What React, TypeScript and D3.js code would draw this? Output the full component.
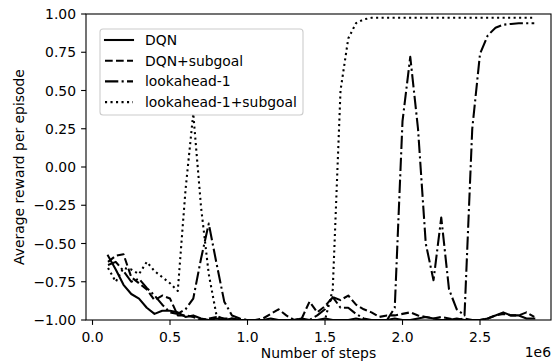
import React from 'react';
import * as d3 from 'd3';

// training steps (x1e6)
const steps = [
  0.1, 0.15, 0.2, 0.25, 0.3, 0.35, 0.4, 0.45, 0.5, 0.55,
  0.6, 0.65, 0.7, 0.75, 0.8, 0.85, 0.9, 0.95, 1.0, 1.05,
  1.1, 1.15, 1.2, 1.25, 1.3, 1.35, 1.4, 1.45, 1.5, 1.55,
  1.6, 1.65, 1.7, 1.75, 1.8, 1.85, 1.9, 1.95, 2.0, 2.05,
  2.1, 2.15, 2.2, 2.25, 2.3, 2.35, 2.4, 2.45, 2.5, 2.55,
  2.6, 2.65, 2.7, 2.75, 2.8, 2.85,
];

const dqn = [
  -0.58, -0.67, -0.77, -0.83, -0.86, -0.92, -0.96, -0.94, -0.94, -0.95,
  -0.98, -0.97, -0.99, -1.0, -0.99, -1.0, -0.99, -1.0, -1.0, -1.0,
  -1.0, -0.99, -1.0, -1.0, -1.0, -0.99, -1.0, -1.0, -0.99, -1.0,
  -1.0, -1.0, -0.99, -1.0, -1.0, -1.0, -1.0, -0.99, -1.0, -1.0,
  -0.99, -0.98, -0.99, -1.0, -1.0, -0.99, -1.0, -1.0, -1.0, -0.99,
  -0.97, -0.95, -0.97, -0.97, -0.99, -0.99,
];

const dqnSubgoal = [
  -0.62, -0.58, -0.57, -0.72, -0.76, -0.8, -0.87, -0.84, -0.86, -0.97,
  -0.97, -0.98, -1.0, -0.99, -0.98, -0.99, -0.99, -1.0, -1.0, -1.0,
  -0.99, -0.96, -0.93, -0.97, -1.0, -0.99, -0.88, -0.95, -0.91, -0.85,
  -0.87, -0.84, -0.9, -0.93, -0.95, -0.98, -0.97, -0.97, -0.96, -0.95,
  -0.97, -0.98, -0.99, -0.98, -0.99, -1.0, -0.99, -1.0, -1.0, -0.99,
  -0.97, -0.96, -0.97, -0.97, -0.95, -0.98,
];

const lookahead = [
  -0.64, -0.62, -0.68, -0.75, -0.73, -0.79, -0.84, -0.9, -0.95, -0.96,
  -0.93, -0.86, -0.6, -0.37, -0.63, -0.88, -0.97, -0.99, -1.0, -1.0,
  -1.0, -1.0, -1.0, -1.0, -1.0, -1.0, -1.0, -0.97, -0.93, -0.85,
  -0.92, -0.92, -0.96, -0.99, -1.0, -1.0, -1.0, -0.92, 0.3, 0.72,
  0.25, -0.5, -0.74, -0.33, -0.8, -0.93, -0.97, 0.25, 0.74, 0.86,
  0.91, 0.93, 0.935, 0.94, 0.94, 0.94,
];

const lookaheadSubgoal = [
  -0.66, -0.75, -0.66, -0.67, -0.7, -0.62, -0.68, -0.72, -0.76, -0.81,
  -0.15, 0.35, -0.26, -0.7, -0.97, -1.0, -1.0, -1.0, -1.0, -1.0,
  -1.0, -1.0, -1.0, -1.0, -1.0, -1.0, -1.0, -1.0, -1.0, -0.8,
  0.5, 0.84, 0.94, 0.965, 0.975, 0.975, 0.975, 0.975, 0.975, 0.975,
  0.975, 0.975, 0.975, 0.975, 0.975, 0.975, 0.975, 0.975, 0.975, 0.975,
  0.975, 0.975, 0.975, 0.975, 0.975, 0.975,
];

const xTicks = [0, 0.5, 1.0, 1.5, 2.0, 2.5];
const yTicks = [-1, -0.75, -0.5, -0.25, 0, 0.25, 0.5, 0.75, 1];

const series = [
  { name: 'DQN', values: dqn, dash: null },
  { name: 'DQN+subgoal', values: dqnSubgoal, dash: '7.7,3.3' },
  { name: 'lookahead-1', values: lookahead, dash: '13.3,3.3,2.1,3.3' },
  { name: 'lookahead-1+subgoal', values: lookaheadSubgoal, dash: '2.1,3.4' },
];

const App = () => {
  const width = 558;
  const height = 363;
  const left = 86, right = 551, top = 14, bottom = 320;
  const font = 'DejaVu Sans';
  const fs = 13.9;

  const x = d3.scaleLinear().domain([-0.042, 2.958]).range([left, right]);
  const y = d3.scaleLinear().domain([-1, 1]).range([bottom, top]);

  const line = d3.line<number>()
    .x((_, i) => x(steps[i]))
    .y(d => y(d));

  const fmtY = (v: number) => (v < 0 ? '\u2212' : '') + Math.abs(v).toFixed(2);

  return (
    <svg width={width} height={height} style={{ position: 'absolute', left: 0, top: 0 }}
      fontFamily={font}>
      <rect width={width} height={height} fill="#fff" />
      <defs>
        <clipPath id="plot">
          <rect x={left} y={top} width={right - left} height={bottom - top} />
        </clipPath>
      </defs>

      {/* lines */}
      <g clipPath="url(#plot)">
        {series.map(s => (
          <path key={s.name} d={line(s.values) || ''} fill="none" stroke="#000"
            strokeWidth={2.08} strokeDasharray={s.dash || undefined}
            strokeLinejoin="round" strokeLinecap={s.dash ? 'butt' : 'square'} />
        ))}
      </g>

      {/* spines */}
      <rect x={left} y={top} width={right - left} height={bottom - top}
        fill="none" stroke="#000" strokeWidth={1.1} />

      {/* x axis */}
      {xTicks.map(t => (
        <g key={t}>
          <line x1={x(t)} x2={x(t)} y1={bottom} y2={bottom + 4.9} stroke="#000" strokeWidth={1.1} />
          <text x={x(t)} y={342} textAnchor="middle" fontSize={fs}>{t.toFixed(1)}</text>
        </g>
      ))}
      <text x={(left + right) / 2} y={358} textAnchor="middle" fontSize={fs}>Number of steps</text>
      <text x={right} y={357} textAnchor="end" fontSize={fs}>1e6</text>

      {/* y axis */}
      {yTicks.map(t => (
        <g key={t}>
          <line x1={left - 4.9} x2={left} y1={y(t)} y2={y(t)} stroke="#000" strokeWidth={1.1} />
          <text x={76} y={y(t) + 5} textAnchor="end" fontSize={fs}>{fmtY(t)}</text>
        </g>
      ))}
      <text transform={`translate(24,${(top + bottom) / 2}) rotate(-90)`} textAnchor="middle"
        fontSize={fs}>Average reward per episode</text>

      {/* legend */}
      <g>
        <rect x={100} y={29} width={203} height={86} rx={3} fill="#fff" fillOpacity={0.8}
          stroke="#cccccc" strokeWidth={1.1} />
        {series.map((s, i) => {
          const cy = 40 + i * 20.7;
          return (
            <g key={s.name}>
              <line x1={105} x2={133} y1={cy} y2={cy} stroke="#000" strokeWidth={2.08}
                strokeDasharray={s.dash || undefined} strokeLinecap={s.dash ? 'butt' : 'square'} />
              <text x={145} y={cy + 5} fontSize={fs}>{s.name}</text>
            </g>
          );
        })}
      </g>
    </svg>
  );
};

export default App;
